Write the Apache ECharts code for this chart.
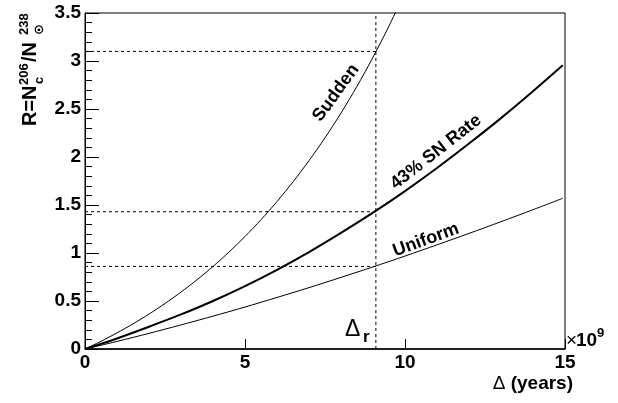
<!DOCTYPE html>
<html><head><meta charset="utf-8">
<script src="https://cdn.jsdelivr.net/npm/echarts@6/dist/echarts.min.js"></script>
<style>html,body{margin:0;padding:0;background:#fff}#c{width:618px;height:403px}</style>
</head><body><div id="c"></div>
<script>
// ---- data (Δ in units of 10^9 years) ----
const deltaSudden = [0,0.5,1,1.5,2,2.5,3,3.5,4,4.5,5,5.5,6,6.5,7,7.5,8,8.5,9,9.5,10];
const rSudden     = [0,0.08,0.168,0.262,0.364,0.474,0.593,0.721,0.86,1.01,1.172,1.347,1.536,1.741,1.962,2.2,2.458,2.737,3.039,3.365,3.716];
const deltaCurve  = [0,1,2,3,4,5,6,7,8,9,10,11,12,13,14,14.93];
const rSNRate     = [0,0.11,0.232,0.36,0.5,0.655,0.825,1.01,1.21,1.42,1.645,1.885,2.14,2.405,2.685,2.955];
const rUniform    = [0,0.079,0.163,0.251,0.342,0.437,0.537,0.639,0.746,0.855,0.968,1.085,1.204,1.326,1.451,1.57];
const deltaR      = 9.09;
const refLevels   = [3.10, 1.43, 0.86];
const curveNames  = ['Sudden', '43% SN Rate', 'Uniform'];
const xRange = [0, 15], xStep = 5;
const yRange = [0, 3.5], yStep = 0.5;

const FONT = '"Liberation Sans", Arial, Helvetica, sans-serif';
const zip = (xs, ys) => xs.map((x, i) => [x, ys[i]]);

const chart = echarts.init(document.getElementById('c'), null, {renderer: 'canvas'});

const dashed = {color: '#000', width: 1, type: [3, 3]};
const refSeries = [];
refSeries.push({type: 'line', data: [[deltaR, yRange[0]], [deltaR, yRange[1]]], symbol: 'none', lineStyle: dashed, silent: true, z: 1});
refLevels.forEach(v => refSeries.push({type: 'line', data: [[xRange[0], v], [deltaR, v]], symbol: 'none', lineStyle: dashed, silent: true, z: 1}));

const option = {
  animation: false,
  backgroundColor: '#fff',
  grid: {left: 85, right: 53, top: 13, bottom: 54, show: true, borderColor: '#000', borderWidth: 1, backgroundColor: 'transparent'},
  xAxis: {
    type: 'value', min: xRange[0], max: xRange[1], interval: xStep,
    axisLine: {show: true, lineStyle: {color: '#000', width: 1.5}},
    axisTick: {show: true, inside: true, length: 10, lineStyle: {color: '#000'}},
    minorTick: {show: false},
    splitLine: {show: false},
    axisLabel: {color: '#000', fontFamily: FONT, fontWeight: 'bold', fontSize: 19, margin: 4, showMinLabel: true, showMaxLabel: true}
  },
  yAxis: {
    type: 'value', min: yRange[0], max: yRange[1], interval: yStep,
    axisLine: {show: true, lineStyle: {color: '#000', width: 1}},
    axisTick: {show: true, inside: true, length: 14, lineStyle: {color: '#000'}},
    minorTick: {show: true, splitNumber: 5, length: 7, lineStyle: {color: '#000'}},
    splitLine: {show: false},
    axisLabel: {color: '#000', fontFamily: FONT, fontWeight: 'bold', fontSize: 19, margin: 4, showMinLabel: true, showMaxLabel: true}
  },
  series: [
    {name: curveNames[0], type: 'line', data: zip(deltaSudden, rSudden), symbol: 'none', smooth: 0.3, clip: true, lineStyle: {color: '#000', width: 1}, z: 3},
    {name: curveNames[1], type: 'line', data: zip(deltaCurve, rSNRate), symbol: 'none', smooth: 0.3, clip: true, lineStyle: {color: '#000', width: 2}, z: 3},
    {name: curveNames[2], type: 'line', data: zip(deltaCurve, rUniform), symbol: 'none', smooth: 0.3, clip: true, lineStyle: {color: '#000', width: 1}, z: 3}
  ].concat(refSeries),
  graphic: [
    // y-axis title R=N_c^206/N_sun^238
    {type: 'group', x: 37.5, y: 126, rotation: Math.PI / 2, silent: true, children: [
      {type: 'text', x: 0,  y: -7, style: {text: 'R=N', font: 'bold 20px ' + FONT, fill: '#000', verticalAlign: 'middle', align: 'left'}},
      {type: 'text', x: 41, y: -13.5, style: {text: '206', font: 'bold 13px ' + FONT, fill: '#000', verticalAlign: 'middle', align: 'left'}},
      {type: 'text', x: 42, y: 1.5, style: {text: 'c', font: 'bold 13px ' + FONT, fill: '#000', verticalAlign: 'middle', align: 'left'}},
      {type: 'text', x: 64, y: -7, style: {text: '/N', font: 'bold 20px ' + FONT, fill: '#000', verticalAlign: 'middle', align: 'left'}},
      {type: 'text', x: 91, y: -13.5, style: {text: '238', font: 'bold 13px ' + FONT, fill: '#000', verticalAlign: 'middle', align: 'left'}},
      {type: 'text', x: 91, y: 2.5, style: {text: '\u2299', font: 'bold 13px "DejaVu Sans", ' + FONT, fill: '#000', verticalAlign: 'middle', align: 'left'}}
    ]},
    // x-axis title
    {type: 'text', x: 573, y: 384, silent: true, style: {text: '{a|\u0394}{b| (years)}', align: 'right', verticalAlign: 'middle',
      rich: {a: {font: '19px ' + FONT, fill: '#000'}, b: {font: 'bold 19px ' + FONT, fill: '#000'}}}},
    // x10^9
    {type: 'text', x: 566, y: 341, silent: true, style: {text: '\u00d7', font: '19px ' + FONT, fill: '#000', verticalAlign: 'middle', align: 'left'}},
    {type: 'text', x: 576, y: 341, silent: true, style: {text: '10', font: 'bold 19px ' + FONT, fill: '#000', verticalAlign: 'middle', align: 'left'}},
    {type: 'text', x: 597, y: 333, silent: true, style: {text: '9', font: 'bold 13px ' + FONT, fill: '#000', verticalAlign: 'middle', align: 'left'}},
    // Δr marker label
    {type: 'text', x: 345, y: 330, silent: true, style: {text: '\u0394', font: '23px ' + FONT, fill: '#000', verticalAlign: 'middle', align: 'left'}},
    {type: 'text', x: 363, y: 337, silent: true, style: {text: 'r', font: 'bold 17px ' + FONT, fill: '#000', verticalAlign: 'middle', align: 'left'}},
    // curve labels
    {type: 'text', x: 336, y: 93, rotation: 54 * Math.PI / 180, silent: true, style: {text: curveNames[0], font: 'bold 18px ' + FONT, fill: '#000', align: 'center', verticalAlign: 'middle'}},
    {type: 'text', x: 436, y: 152, rotation: 38 * Math.PI / 180, silent: true, style: {text: curveNames[1], font: 'bold 18px ' + FONT, fill: '#000', align: 'center', verticalAlign: 'middle'}},
    {type: 'text', x: 426, y: 240, rotation: 20 * Math.PI / 180, silent: true, style: {text: curveNames[2], font: 'bold 18px ' + FONT, fill: '#000', align: 'center', verticalAlign: 'middle'}}
  ]
};
chart.setOption(option);
</script>
</body></html>
